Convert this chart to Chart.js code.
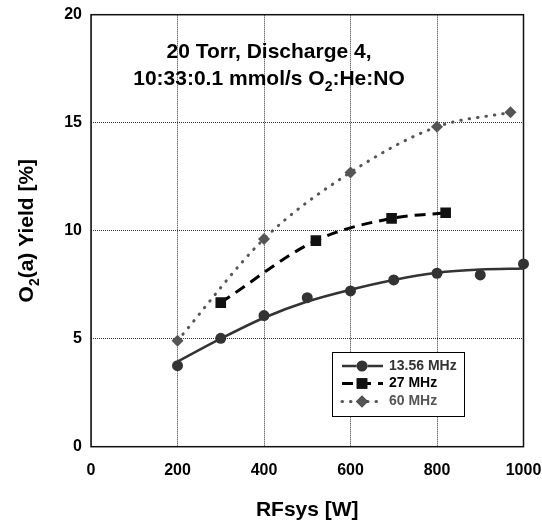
<!DOCTYPE html>
<html>
<head>
<meta charset="utf-8">
<script src="https://cdn.jsdelivr.net/npm/chart.js@4.4.1/dist/chart.umd.min.js"></script>
<style>
  html, body { margin: 0; padding: 0; background: #fff; }
  #wrap { width: 542px; height: 523px; }
</style>
</head>
<body>
<div id="wrap"><canvas id="myChart"></canvas></div>
<script>
const FONT = "'Liberation Sans', Arial, sans-serif";

// data
const seriesNames = ['13.56 MHz', '27 MHz', '60 MHz'];

const rf1356 = [200, 300, 400, 500, 600, 700, 800, 900, 1000];
const yield1356 = [3.75, 5.02, 6.07, 6.9, 7.21, 7.72, 8.03, 7.95, 8.46];
// trend curve drawn through the 13.56 MHz points
const fit1356 = [3.94, 5.0, 5.97, 6.72, 7.27, 7.72, 8.05, 8.2, 8.25];

const rf27 = [300, 520, 695, 820];
const yield27 = [6.67, 9.54, 10.57, 10.83];

const rf60 = [200, 400, 600, 800, 970];
const yield60 = [4.91, 9.62, 12.7, 14.81, 15.48];

const xTicks = [0, 200, 400, 600, 800, 1000];
const yTicks = [0, 5, 10, 15, 20];

function pts(xs, ys) {
    return xs.map((x, i) => ({ x: x, y: ys[i] }));
}

// text with O2 style subscripts
function drawRich(ctx, parts, cx, y, size) {
    const main = 'bold ' + size + 'px ' + FONT;
    const sub = 'bold ' + Math.round(size * 0.66) + 'px ' + FONT;
    let total = 0;
    parts.forEach(p => {
        ctx.font = p.sub ? sub : main;
        total += ctx.measureText(p.t).width;
    });
    let x = cx - total / 2;
    parts.forEach(p => {
        ctx.font = p.sub ? sub : main;
        ctx.fillText(p.t, x, p.sub ? y + size * 0.3 : y);
        x += ctx.measureText(p.t).width;
    });
}

const extras = {
    id: 'extras',
    beforeDatasetsDraw(chart) {
        // plot frame under the marks
        const ctx = chart.ctx;
        const a = chart.chartArea;
        ctx.save();
        ctx.strokeStyle = '#111';
        ctx.lineWidth = 1.5;
        ctx.setLineDash([]);
        ctx.strokeRect(a.left, a.top, a.right - a.left, a.bottom - a.top);
        ctx.restore();
    },
    afterDraw(chart) {
        const ctx = chart.ctx;
        const a = chart.chartArea;
        ctx.save();

        // annotation
        ctx.fillStyle = '#000';
        ctx.textBaseline = 'alphabetic';
        drawRich(ctx, [{ t: '20 Torr, Discharge 4,' }], 269, 58, 21);
        drawRich(ctx, [{ t: '10:33:0.1 mmol/s O' }, { t: '2', sub: true }, { t: ':He:NO' }], 269, 85, 21);

        // y axis title
        ctx.save();
        ctx.translate(33, (a.top + a.bottom) / 2);
        ctx.rotate(-Math.PI / 2);
        drawRich(ctx, [{ t: 'O' }, { t: '2', sub: true }, { t: '(a) Yield [%]' }], 0, 0, 21);
        ctx.restore();

        // legend
        const bx = 332, by = 352, bw = 132, bh = 64;
        ctx.fillStyle = '#fff';
        ctx.fillRect(bx, by, bw, bh);
        ctx.strokeStyle = '#000';
        ctx.lineWidth = 1;
        ctx.strokeRect(bx + 0.5, by + 0.5, bw, bh);

        const rows = [366, 383.5, 401.5];
        chart.data.datasets.filter(d => d.legendRow !== undefined).forEach(d => {
            const ry = rows[d.legendRow];
            const line = chart.data.datasets[d.lineFrom];
            ctx.strokeStyle = line.borderColor;
            ctx.lineWidth = line.borderWidth;
            ctx.lineCap = line.borderCapStyle || 'butt';
            ctx.setLineDash(line.borderDash || []);
            ctx.beginPath();
            ctx.moveTo(342, ry);
            ctx.lineTo(383, ry);
            ctx.stroke();
            ctx.setLineDash([]);
            Chart.helpers.drawPoint(ctx, {
                pointStyle: d.pointStyle,
                radius: d.pointRadius,
                borderWidth: 0
            }, 362, ry);
            ctx.fillStyle = d.pointBackgroundColor;
            ctx.fill();
            ctx.fillStyle = d.textColor;
            ctx.font = 'bold 14px ' + FONT;
            ctx.textBaseline = 'middle';
            ctx.fillText(d.label, 389, ry);
        });
        ctx.restore();
    }
};

const ctx = document.getElementById('myChart');

new Chart(ctx, {
    type: 'scatter',
    data: {
        datasets: [
            {
                label: 'fit',
                data: pts(rf1356, fit1356),
                showLine: true,
                borderColor: '#333',
                borderWidth: 2.5,
                pointRadius: 0,
                cubicInterpolationMode: 'monotone'
            },
            {
                label: seriesNames[0],
                data: pts(rf1356, yield1356),
                showLine: false,
                clip: false,
                pointStyle: 'circle',
                pointRadius: 5.5,
                pointBackgroundColor: '#333',
                pointBorderWidth: 0,
                legendRow: 0,
                lineFrom: 0,
                textColor: '#333'
            },
            {
                label: seriesNames[1],
                data: pts(rf27, yield27),
                showLine: true,
                borderColor: '#000',
                borderWidth: 3,
                borderDash: [11, 7],
                cubicInterpolationMode: 'monotone',
                pointStyle: 'rect',
                pointRadius: 7.5,
                pointBackgroundColor: '#111',
                pointBorderWidth: 0,
                legendRow: 1,
                lineFrom: 2,
                textColor: '#000'
            },
            {
                label: seriesNames[2],
                data: pts(rf60, yield60),
                showLine: true,
                borderColor: '#555',
                borderWidth: 3,
                borderDash: [0.5, 8],
                borderCapStyle: 'round',
                cubicInterpolationMode: 'monotone',
                pointStyle: 'rectRot',
                pointRadius: 6,
                pointBackgroundColor: '#555',
                pointBorderWidth: 0,
                legendRow: 2,
                lineFrom: 3,
                textColor: '#555'
            }
        ]
    },
    options: {
        responsive: true,
        maintainAspectRatio: false,
        animation: false,
        layout: { padding: { left: 0, right: 18.5, top: 14.7, bottom: 0 } },
        plugins: {
            legend: { display: false },
            tooltip: { enabled: false }
        },
        scales: {
            x: {
                type: 'linear',
                min: 0,
                max: 1000,
                afterBuildTicks: s => { s.ticks = xTicks.map(v => ({ value: v })); },
                afterFit: s => {
                    s.height = 76.3;
                    s.paddingLeft = 0;
                    s.paddingRight = 0;
                },
                grid: { color: '#333', lineWidth: 1, drawTicks: false },
                border: { display: false, dash: [1, 1] },
                ticks: {
                    padding: 14,
                    color: '#000',
                    callback: v => String(v),
                    font: { family: FONT, size: 16, weight: 'bold' }
                },
                title: {
                    display: true,
                    text: 'RFsys [W]',
                    color: '#000',
                    padding: { top: 20, bottom: 0 },
                    font: { family: FONT, size: 21, weight: 'bold' }
                }
            },
            y: {
                min: 0,
                max: 20,
                afterBuildTicks: s => { s.ticks = yTicks.map(v => ({ value: v })); },
                afterFit: s => {
                    s.width = 91;
                    s.paddingTop = 0;
                    s.paddingBottom = 0;
                },
                grid: { color: '#333', lineWidth: 1, drawTicks: false },
                border: { display: false, dash: [1, 1] },
                ticks: {
                    padding: 9,
                    color: '#000',
                    callback: v => String(v),
                    font: { family: FONT, size: 16, weight: 'bold' }
                }
            }
        }
    },
    plugins: [extras]
});
</script>
</body>
</html>
